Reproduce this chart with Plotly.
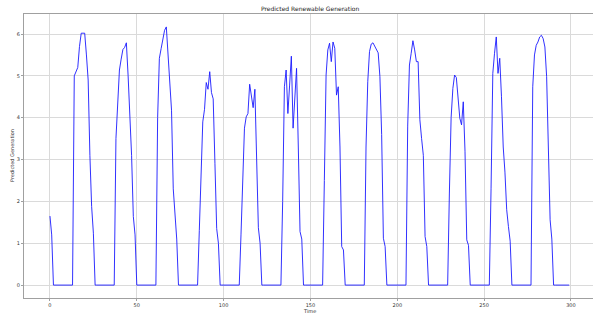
import plotly.graph_objects as go

# ---- data (hourly steps, 300 points) ----
TIME = list(range(300))
LEAD = [1.65, 1.2]
NIGHT = [0, 0, 0, 0, 0, 0, 0, 0, 0, 0, 0, 0]
TAIL = [0, 0, 0, 0, 0, 0, 0, 0, 0, 0]

DAY_01 = [5.0, 5.1, 5.2, 5.7, 6.02, 6.02, 6.02, 5.5, 4.9, 3.1, 1.88, 1.24]
DAY_02 = [3.5, 4.46, 5.14, 5.4, 5.63, 5.68, 5.79, 5.0, 4.1, 3.1, 1.64, 1.2]
DAY_03 = [4.0, 5.42, 5.65, 5.9, 6.09, 6.17, 5.45, 4.7, 4.18, 2.3, 1.68, 1.1]
DAY_04 = [1.3, 2.8, 3.9, 4.2, 4.84, 4.68, 5.1, 4.6, 4.45, 2.9, 1.35, 1.0]
DAY_05 = [1.2, 2.8, 3.75, 4.02, 4.1, 4.8, 4.45, 4.24, 4.68, 3.0, 1.37, 1.0]
DAY_06 = [2.0, 4.74, 5.14, 4.1, 4.78, 5.47, 3.75, 4.46, 5.18, 3.3, 1.28, 1.1]
DAY_07 = [2.5, 5.02, 5.62, 5.78, 5.34, 5.81, 5.66, 4.54, 4.74, 3.3, 0.92, 0.84]
DAY_08 = [3.3, 4.86, 5.58, 5.76, 5.79, 5.7, 5.62, 5.55, 4.98, 3.6, 1.12, 0.92]
DAY_09 = [3.8, 5.26, 5.54, 5.84, 5.62, 5.34, 5.34, 3.95, 3.5, 3.1, 1.16, 0.92]
DAY_10 = [2.2, 4.0, 4.7, 5.02, 4.96, 4.54, 3.99, 3.83, 4.38, 3.2, 1.08, 0.95]
DAY_11 = [2.3, 5.06, 5.54, 5.93, 5.06, 5.42, 4.5, 3.3, 2.7, 1.8, 1.4, 1.05]
DAY_12 = [4.74, 5.5, 5.73, 5.81, 5.93, 5.97, 5.89, 5.69, 4.98, 3.3, 1.56, 1.1]

DAYS = [DAY_01, DAY_02, DAY_03, DAY_04, DAY_05, DAY_06,
        DAY_07, DAY_08, DAY_09, DAY_10, DAY_11, DAY_12]

generation = list(LEAD)
for d in DAYS:
    generation += NIGHT + d
generation += TAIL

X_TICKS = [0, 50, 100, 150, 200, 250, 300]
Y_TICKS = [0, 1, 2, 3, 4, 5, 6]

FONT = "DejaVu Sans"
AX_COL = "#a0a0a0"
GRID_COL = "#dadada"

fig = go.Figure(
    go.Scatter(x=TIME, y=generation, mode="lines",
               line=dict(color="#1a1aff", width=0.9), hoverinfo="skip")
)

fig.update_layout(
    width=593, height=314,
    margin=dict(l=24, r=0, t=14, b=16),
    paper_bgcolor="white", plot_bgcolor="white",
    showlegend=False,
    font=dict(family=FONT, size=5, color="#333333"),
)

fig.update_xaxes(
    range=[-14.95, 312.7], tickvals=X_TICKS, ticktext=[str(v) for v in X_TICKS],
    showgrid=True, gridcolor=GRID_COL, gridwidth=1, zeroline=False,
    showline=True, linecolor=AX_COL, linewidth=1, mirror=True,
    ticks="outside", ticklen=2, tickcolor=AX_COL, tickwidth=1,
    tickfont=dict(family=FONT, size=5, color="#333333"), automargin=False,
)
fig.update_yaxes(
    range=[-0.3085, 6.4785], tickvals=Y_TICKS, ticktext=[str(v) for v in Y_TICKS],
    showgrid=True, gridcolor=GRID_COL, gridwidth=1, zeroline=False,
    showline=True, linecolor=AX_COL, linewidth=1, mirror=False,
    ticks="outside", ticklen=2, tickcolor=AX_COL, tickwidth=1,
    tickfont=dict(family=FONT, size=5, color="#333333"), automargin=False,
)

fig.add_annotation(text="Predicted Renewable Generation", xref="paper", yref="paper",
                   x=0.502, y=1, yshift=6, xanchor="center", yanchor="middle",
                   showarrow=False, font=dict(family=FONT, size=6, color="#222222"))
fig.add_annotation(text="Time", xref="paper", yref="paper",
                   x=0.502, y=0, yshift=-13, xanchor="center", yanchor="middle",
                   showarrow=False, font=dict(family=FONT, size=5, color="#333333"))
fig.add_annotation(text="Predicted Generation", xref="paper", yref="paper",
                   x=0, xshift=-12, y=0.5, xanchor="center", yanchor="middle",
                   textangle=-90, showarrow=False,
                   font=dict(family=FONT, size=5, color="#333333"))

fig.write_html(
    "out.html",
    config={"displayModeBar": False, "staticPlot": True},
    post_script="document.body.style.margin='0px';document.body.style.padding='0px';"
                "document.body.style.overflow='hidden';",
)
